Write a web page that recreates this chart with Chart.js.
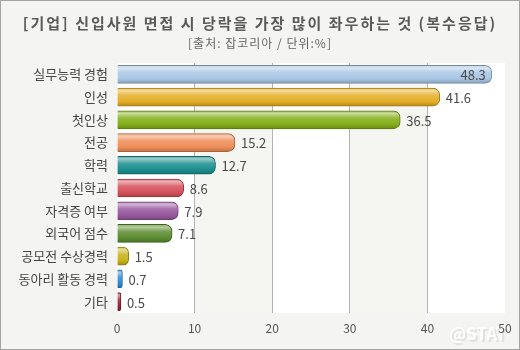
<!DOCTYPE html>
<html>
<head>
<meta charset="utf-8">
<script src="https://cdn.jsdelivr.net/npm/chart.js@4"></script>
<style>
  html, body { margin: 0; padding: 0; background: #f4f4f2; }
  #wrap { width: 520px; height: 350px; position: relative; }
</style>
</head>
<body>
<div id="wrap"><canvas id="chart" width="520" height="350"></canvas></div>
<script>
const categories = ["실무능력 경험", "인성", "첫인상", "전공", "학력", "출신학교",
  "자격증 여부", "외국어 점수", "공모전 수상경력", "동아리 활동 경력", "기타"];
const values = [48.3, 41.6, 36.5, 15.2, 12.7, 8.6, 7.9, 7.1, 1.5, 0.7, 0.5];
const xTicks = [0, 10, 20, 30, 40, 50];
const barColors = ["#a8c6e4", "#e4ae26", "#84ae1a", "#ee8e58", "#1c8e8e", "#d6505a",
  "#98589f", "#5c8c30", "#c6b216", "#2a8ad4", "#9e2232"];

const titleText = "[기업] 신입사원 면접 시 당락을 가장 많이 좌우하는 것 (복수응답)";
const subText = "[출처: 잡코리아 / 단위:%]";
const FONT = "'Noto Sans CJK KR', 'Noto Sans', sans-serif";
const BAR_H = 18;

function shade(hex, amt) {
  // amt > 0 mixes with white, < 0 with black
  const n = parseInt(hex.slice(1), 16);
  let r = n >> 16, g = (n >> 8) & 255, b = n & 255;
  const t = amt > 0 ? 255 : 0, p = Math.abs(amt);
  r = Math.round(r + (t - r) * p);
  g = Math.round(g + (t - g) * p);
  b = Math.round(b + (t - b) * p);
  return "rgb(" + r + "," + g + "," + b + ")";
}

function barFill(ctx) {
  const chart = ctx.chart;
  const base = barColors[ctx.dataIndex];
  if (!chart.chartArea || !chart.scales.y) return base;
  const y = chart.scales.y.getPixelForValue(ctx.dataIndex);
  const g = chart.ctx.createLinearGradient(0, y - BAR_H / 2, 0, y + BAR_H / 2);
  g.addColorStop(0, shade(base, 0.25));
  g.addColorStop(0.15, shade(base, 0.55));
  g.addColorStop(0.4, shade(base, 0.15));
  g.addColorStop(0.75, base);
  g.addColorStop(1, shade(base, -0.2));
  return g;
}

const frame = {
  id: "frame",
  beforeDraw(chart) {
    const c = chart.ctx, a = chart.chartArea, x = chart.scales.x;
    c.save();
    c.fillStyle = "#f4f4f2";
    c.fillRect(0, 0, chart.width, chart.height);
    c.strokeStyle = "#a4a4a4";
    c.lineWidth = 1;
    c.strokeRect(0.5, 0.5, chart.width - 1, chart.height - 1);
    c.fillStyle = "#ffffff";
    c.fillRect(a.left, a.top, a.right - a.left, a.bottom - a.top);
    c.fillStyle = "#f5f5f1";
    for (let i = 1; i < xTicks.length - 1; i += 2) {
      const x0 = x.getPixelForValue(xTicks[i]);
      const x1 = x.getPixelForValue(xTicks[i + 1]);
      c.fillRect(x0, a.top, x1 - x0, a.bottom - a.top);
    }
    c.textAlign = "center";
    c.textBaseline = "middle";
    c.fillStyle = "#5a5a5a";
    c.font = "bold 15px " + FONT;
    c.letterSpacing = "2px";
    c.fillText(titleText, chart.width / 2, 23);
    c.fillStyle = "#666666";
    c.font = "12px " + FONT;
    c.letterSpacing = "1px";
    c.fillText(subText, chart.width / 2, 43);
    c.letterSpacing = "0px";
    // watermark, under the tick labels
    c.font = "bold 17px " + FONT;
    c.textAlign = "left";
    c.fillStyle = "rgba(205,205,205,0.5)";
    c.fillText("@STAT", 451, 336);
    c.fillStyle = "rgba(255,255,255,0.9)";
    c.fillText("@STAT", 449, 334);
    c.restore();
  },
  afterDatasetsDraw(chart) {
    const c = chart.ctx, meta = chart.getDatasetMeta(0);
    c.save();
    c.font = "13px " + FONT;
    c.fillStyle = "#4a4a4a";
    c.textBaseline = "middle";
    meta.data.forEach((el, i) => {
      const txt = values[i].toFixed(1);
      if (el.x + 40 > chart.chartArea.right) {
        c.textAlign = "right";
        c.fillText(txt, el.x - 6, el.y + 1);
      } else {
        c.textAlign = "left";
        c.fillText(txt, el.x + 6, el.y + 1);
      }
    });
    c.restore();
  }
};

new Chart(document.getElementById("chart"), {
  type: "bar",
  data: {
    labels: categories,
    datasets: [{
      data: values,
      backgroundColor: barFill,
      borderColor: barColors.map(c => shade(c, -0.3)),
      borderWidth: 1,
      borderRadius: 7,
      borderSkipped: "start",
      barThickness: BAR_H
    }]
  },
  options: {
    indexAxis: "y",
    responsive: false,
    animation: false,
    layout: { padding: { top: 63, right: 15, left: 0, bottom: 0 } },
    plugins: { legend: { display: false }, tooltip: { enabled: false } },
    scales: {
      x: {
        min: 0, max: 50,
        afterBuildTicks(scale) { scale.ticks = xTicks.map(v => ({ value: v })); },
        afterFit(scale) { scale.height = 37; },
        border: { display: false },
        grid: {
          drawTicks: false,
          color: c => (c.tick && (c.tick.value === 0 || c.tick.value === 50)) ? "rgba(0,0,0,0)" : "#b4b4b4"
        },
        ticks: { padding: 8, color: "#555555", font: { family: FONT, size: 12 } }
      },
      y: {
        afterFit(scale) { scale.width = 117; },
        border: { display: false },
        grid: { display: false, drawTicks: false },
        ticks: { padding: 9, color: "#454545", font: { family: FONT, size: 13 } }
      }
    }
  },
  plugins: [frame]
});
</script>
</body>
</html>
